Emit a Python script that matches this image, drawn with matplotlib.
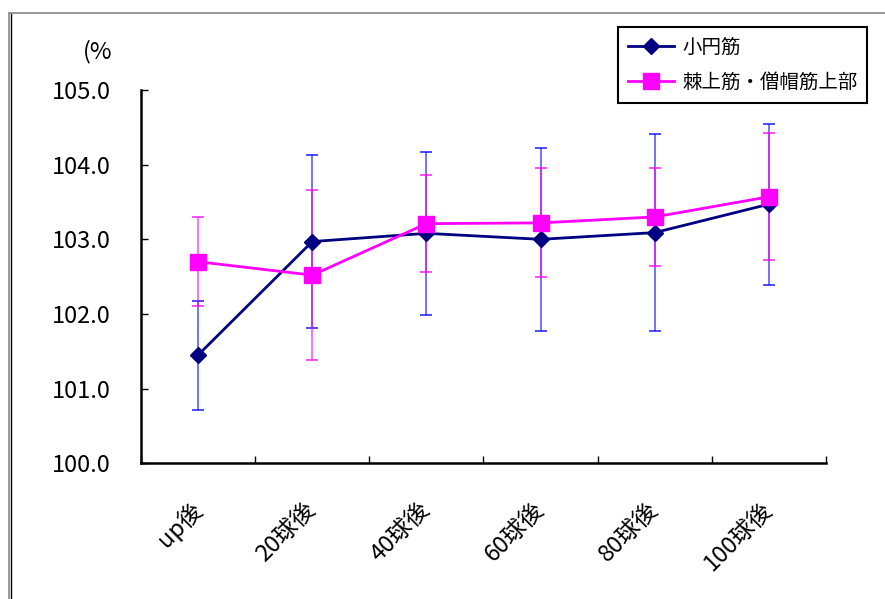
import matplotlib
matplotlib.use("Agg")
import matplotlib.pyplot as plt
from matplotlib.lines import Line2D
import numpy as np

plt.rcParams['font.family'] = ['Noto Sans CJK JP', 'DejaVu Sans']

categories = ["up後", "20球後", "40球後", "60球後", "80球後", "100球後"]
teres_mean = [101.45, 102.97, 103.08, 103.00, 103.09, 103.47]
teres_sd = [0.73, 1.155, 1.09, 1.225, 1.32, 1.08]
supra_mean = [102.70, 102.52, 103.21, 103.22, 103.30, 103.57]
supra_sd = [0.595, 1.14, 0.645, 0.73, 0.655, 0.85]
series_names = ["小円筋", "棘上筋・僧帽筋上部"]
yticks = [100.0, 101.0, 102.0, 103.0, 104.0, 105.0]

W, H = 885, 599
fig = plt.figure(figsize=(W / 100, H / 100), dpi=100)
ax = fig.add_axes([141 / W, 1 - 463.3 / H, 685 / W, 373.3 / H])

x = np.arange(len(categories))

ax.errorbar(x, teres_mean, yerr=teres_sd, fmt='none', ecolor='#0000ff',
            elinewidth=1.1, capsize=4.2, capthick=1.4, alpha=0.7, zorder=2)
ax.errorbar(x, supra_mean, yerr=supra_sd, fmt='none', ecolor='#ff00ff',
            elinewidth=1.1, capsize=4.2, capthick=1.4, alpha=0.7, zorder=2)

ax.plot(x, teres_mean, color='#000080', lw=2.0, marker='D', ms=8,
        mec='#000080', mfc='#000080', label=series_names[0], zorder=3)
ax.plot(x, supra_mean, color='#ff00ff', lw=2.0, marker='s', ms=12,
        mec='#ff00ff', mfc='#ff00ff', label=series_names[1], zorder=4)

ax.set_xlim(-0.5, len(categories) - 0.5)
ax.set_ylim(100, 105)
ax.set_yticks(yticks)
ax.set_yticklabels([f"{v:.1f}" for v in yticks], fontsize=17)
ax.tick_params(axis='y', direction='in', length=5, width=1, pad=22)

ax.set_xticks(x)
ax.set_xticklabels(categories, rotation=45, ha='right', va='center',
                   rotation_mode='anchor', fontsize=17)
ax.tick_params(axis='x', which='major', length=0, pad=31)
ax.set_xticks(np.arange(-0.5, len(categories) + 0.5, 1), minor=True)
ax.tick_params(axis='x', which='minor', direction='in', length=5, width=1)

for s in ['top', 'right']:
    ax.spines[s].set_visible(False)
for s in ['left', 'bottom']:
    ax.spines[s].set_linewidth(1.8)
    ax.spines[s].set_color('black')

fig.text(98 / W, 1 - 52 / H, "(%", fontsize=17, ha='center', va='center')

leg = fig.legend(loc='upper left', bbox_to_anchor=(618 / W, 1 - 27 / H),
                 fontsize=14, frameon=True, fancybox=False, edgecolor='black',
                 framealpha=1, handlelength=2.4, handletextpad=0.4,
                 borderpad=0.5, labelspacing=0.75, borderaxespad=0)
leg.get_frame().set_linewidth(1.5)

# outer frame lines
fig.add_artist(Line2D([9 / W, 1], [1 - 13 / H, 1 - 13 / H], color='#888888', lw=1.2,
                      transform=fig.transFigure))
fig.add_artist(Line2D([9 / W, 9 / W], [0, 1 - 13 / H], color='#888888', lw=1.2,
                      transform=fig.transFigure))
fig.add_artist(Line2D([11 / W, 11 / W], [0, 1 - 14 / H], color='black', lw=1.0,
                      transform=fig.transFigure))

fig.savefig("out.png", dpi=100)
